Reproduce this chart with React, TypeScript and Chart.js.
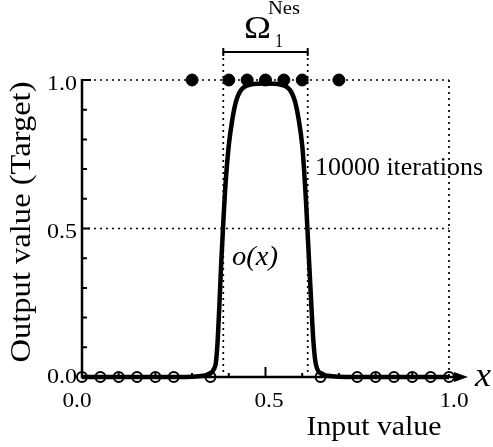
import { useEffect, useRef } from "react";
import { Chart, registerables } from "chart.js";

Chart.register(...registerables);

// ---- data ----
const curveX = [0, 0.1, 0.2, 0.3, 0.33, 0.35, 0.36, 0.365, 0.37, 0.375, 0.38, 0.385, 0.39, 0.4, 0.41, 0.42, 0.43, 0.44, 0.46, 0.5, 0.54, 0.56, 0.57, 0.58, 0.59, 0.6, 0.605, 0.61, 0.615, 0.62, 0.625, 0.63, 0.635, 0.64, 0.65, 0.67, 0.7, 0.8, 1.0];
const curveY = [0, 0, 0, 0.001, 0.004, 0.012, 0.028, 0.05, 0.13, 0.26, 0.4, 0.52, 0.63, 0.78, 0.87, 0.93, 0.96, 0.975, 0.985, 0.988, 0.985, 0.975, 0.96, 0.93, 0.87, 0.78, 0.7, 0.6, 0.48, 0.36, 0.24, 0.13, 0.06, 0.03, 0.012, 0.004, 0.001, 0, 0];
const targetOnX = [0.3, 0.4, 0.45, 0.5, 0.55, 0.6, 0.7];
const targetOffX = [0, 0.05, 0.1, 0.15, 0.2, 0.25, 0.35, 0.65, 0.75, 0.8, 0.85, 0.9, 0.95, 1.0];
const tickValues = [0, 0.5, 1.0];
const tickLabels = ["0.0", "0.5", "1.0"];
const minorTicks = [0.1, 0.2, 0.3, 0.4, 0.5, 0.6, 0.7, 0.8, 0.9];
const omegaRange = [0.385, 0.615];
const gridY = [0.5, 1.0];

const SERIF = "'Liberation Serif', 'DejaVu Serif', serif";

function fitText(ctx: CanvasRenderingContext2D, text: string, x: number, y: number, w: number, font: string, align: "left" | "center" | "right" = "left") {
  ctx.save();
  ctx.font = font;
  const nat = ctx.measureText(text).width;
  const sx = w / nat;
  ctx.translate(x, y);
  ctx.scale(sx, 1);
  ctx.textAlign = align;
  ctx.textBaseline = "alphabetic";
  ctx.fillText(text, 0, 0);
  ctx.restore();
}

export default function App() {
  const ref = useRef<HTMLCanvasElement>(null);
  useEffect(() => {
    document.body.style.margin = "0";
    const canvas = ref.current!;
    const yLabelDy = [6, 9, 10];
    const xLabelDx = [-5, 3.5, 5];
    const decor = {
      id: "decor",
      beforeDraw(chart: any) {
        const c = chart.ctx;
        c.save();
        c.fillStyle = "#fff";
        c.fillRect(0, 0, chart.width, chart.height);
        c.restore();
      },
      beforeDatasetsDraw(chart: any) {
        const c: CanvasRenderingContext2D = chart.ctx;
        const xs = chart.scales.x;
        const ys = chart.scales.y;
        const X = (v: number) => xs.getPixelForValue(v);
        const Y = (v: number) => ys.getPixelForValue(v);
        c.save();
        c.strokeStyle = "#000";
        // dotted grid
        c.setLineDash([2, 4]);
        c.lineWidth = 1.7;
        for (const g of gridY) {
          c.beginPath();
          c.moveTo(X(0), Y(g));
          c.lineTo(X(1), Y(g));
          c.stroke();
        }
        c.beginPath();
        c.moveTo(X(1), Y(1));
        c.lineTo(X(1), Y(0));
        c.stroke();
        for (const o of omegaRange) {
          c.beginPath();
          c.moveTo(X(o), 52);
          c.lineTo(X(o), Y(0));
          c.stroke();
        }
        c.setLineDash([]);
        // bracket
        c.lineWidth = 2;
        c.beginPath();
        c.moveTo(X(omegaRange[0]), 52);
        c.lineTo(X(omegaRange[1]), 52);
        c.moveTo(X(omegaRange[0]), 48);
        c.lineTo(X(omegaRange[0]), 56);
        c.moveTo(X(omegaRange[1]), 48);
        c.lineTo(X(omegaRange[1]), 56);
        c.stroke();
        // axes
        c.lineWidth = 2.5;
        c.beginPath();
        c.moveTo(X(0), Y(1) - 1);
        c.lineTo(X(0), Y(0));
        c.lineTo(X(1) + 8, Y(0));
        c.stroke();
        // arrow head
        c.beginPath();
        c.moveTo(X(1) + 19, Y(0));
        c.lineTo(X(1) + 5, Y(0) - 5);
        c.lineTo(X(1) + 5, Y(0) + 5);
        c.closePath();
        c.fillStyle = "#000";
        c.fill();
        // ticks
        c.lineWidth = 2;
        c.beginPath();
        for (const t of minorTicks) {
          c.moveTo(X(0), Y(t));
          c.lineTo(X(0) + (t === 0.5 ? 8 : 5), Y(t));
          c.moveTo(X(t), Y(0));
          c.lineTo(X(t), Y(0) - (t === 0.5 ? 10 : 4));
        }
        c.moveTo(X(0), Y(1));
        c.lineTo(X(0) + 9, Y(1));
        c.stroke();
        c.restore();
      },
      afterDatasetsDraw(chart: any) {
        const c: CanvasRenderingContext2D = chart.ctx;
        const xs = chart.scales.x;
        const ys = chart.scales.y;
        const X = (v: number) => xs.getPixelForValue(v);
        const Y = (v: number) => ys.getPixelForValue(v);
        c.save();
        c.fillStyle = "#000";
        const tf = `22px ${SERIF}`;
        tickValues.forEach((v, i) => {
          fitText(c, tickLabels[i], X(0) - 5, Y(v) + yLabelDy[i], 30, tf, "right");
          fitText(c, tickLabels[i], X(v) + xLabelDx[i], Y(0) + 30, 29, tf, "center");
        });
        // axis titles
        fitText(c, "Input value", 374, 435, 135, `28px ${SERIF}`, "center");
        c.save();
        c.translate(30, 222);
        c.rotate(-Math.PI / 2);
        fitText(c, "Output value (Target)", 0, 0, 281, `29px ${SERIF}`, "center");
        c.restore();
        fitText(c, "x", 475, 386, 16, `italic 34px ${SERIF}`, "left");
        fitText(c, "o(x)", 255, 265, 46, `italic 28px ${SERIF}`, "center");
        fitText(c, "10000 iterations", 315, 175, 168, `26px ${SERIF}`, "left");
        // Omega label
        fitText(c, "\u03A9", 244, 38, 27, `32px ${SERIF}`, "left");
        fitText(c, "Nes", 268, 14, 32, `19px ${SERIF}`, "left");
        fitText(c, "1", 275, 47, 8, `19px ${SERIF}`, "left");
        c.restore();
      },
    };

    const chart = new Chart(canvas, {
      type: "scatter",
      data: {
        datasets: [
          {
            data: curveX.map((x, i) => ({ x, y: curveY[i] })),
            showLine: true,
            borderColor: "#000",
            borderWidth: 4.5,
            pointRadius: 0,
            cubicInterpolationMode: "monotone",
            clip: false,
          } as any,
          {
            data: targetOffX.map((x) => ({ x, y: 0 })),
            showLine: false,
            pointRadius: 5,
            backgroundColor: "rgba(0,0,0,0)",
            borderColor: "#000",
            borderWidth: 2,
            clip: false,
          } as any,
          {
            data: targetOnX.map((x) => ({ x, y: 1 })),
            showLine: false,
            pointRadius: 6,
            backgroundColor: "#000",
            borderColor: "#000",
            borderWidth: 1,
            clip: false,
          } as any,
        ],
      },
      options: {
        responsive: false,
        animation: false,
        events: [],
        layout: { padding: { left: 82, right: 44, top: 80, bottom: 70 } },
        plugins: { legend: { display: false }, tooltip: { enabled: false } },
        scales: {
          x: { type: "linear", min: 0, max: 1, display: false },
          y: { type: "linear", min: 0, max: 1, display: false },
        },
      },
      plugins: [decor],
    });
    return () => {
      chart.destroy();
    };
  }, []);
  return <canvas ref={ref} width={493} height={447} style={{ display: "block" }} />;
}
